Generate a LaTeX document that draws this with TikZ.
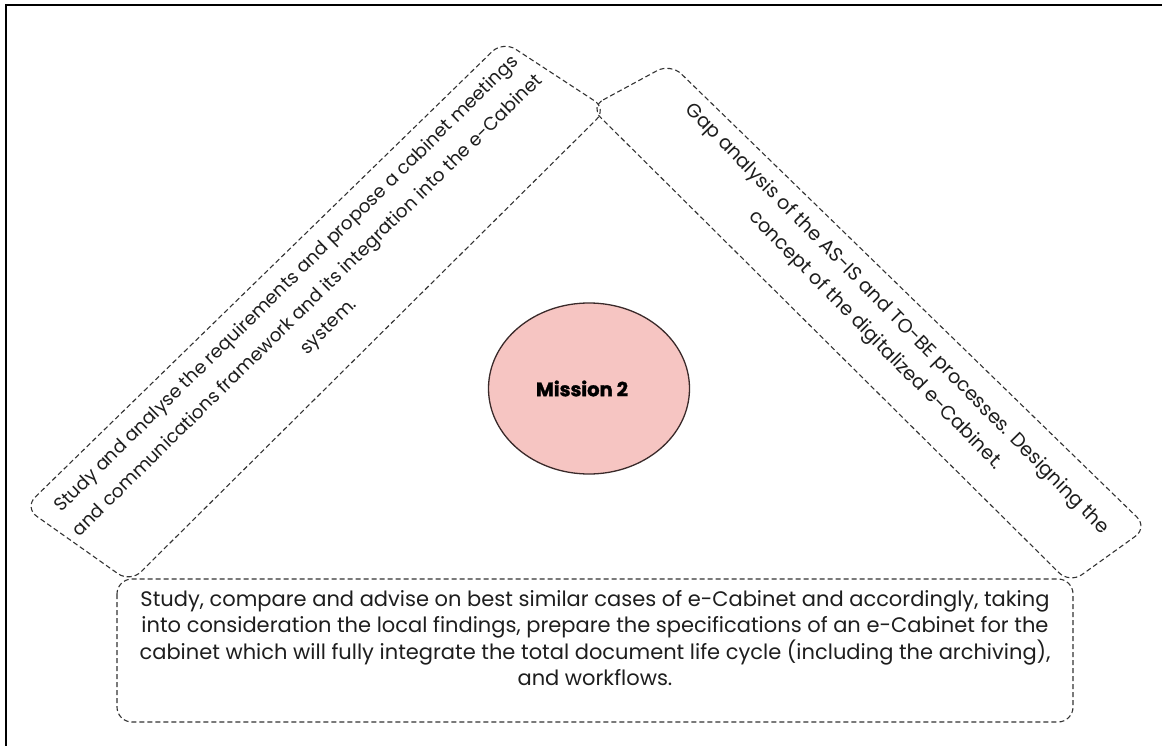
\documentclass[tikz,border=0pt]{standalone}
\usepackage{fontspec}
\setmainfont{Poppins}
\usetikzlibrary{shapes.geometric}
\definecolor{pinkfill}{HTML}{F6C5C2}
\definecolor{circline}{HTML}{3A2A2A}
\definecolor{dashcol}{HTML}{333333}
\definecolor{txtcol}{HTML}{1E1E1E}
\tikzset{
  dbox/.style={draw=dashcol, line width=1.1pt, dash pattern=on 5pt off 3pt, rounded corners=15pt},
  sidetext/.style={text=txtcol, align=center, inner sep=0pt},
  bottext/.style={text=txtcol, font=\fontsize{21}{26.3}\selectfont, align=center, inner sep=0pt},
  mission/.style={shape=ellipse, draw=circline, line width=1.3pt, fill=pinkfill, minimum width=201pt, minimum height=171pt, inner sep=0pt},
  missiontext/.style={text=black, inner sep=0pt, font=\fontsize{19.5}{22}\selectfont\bfseries\addfontfeature{FakeBold=1.5}}
}
\begin{document}
\begin{tikzpicture}[x=1pt,y=-1pt]
\useasboundingbox (0,0) rectangle (1162,746);
\fill[white] (0,0) rectangle (1162,746);
% frame
\draw[line width=2pt, black] (6,746) -- (6,5) -- (1162,5);
% left box
\coordinate (LA) at (24.4,507.6);
\coordinate (LB) at (503,41);
\coordinate (LC) at (607,109);
\coordinate (LD) at (130.3,582.4);
\draw[dbox] (LA) -- (LB) -- (LC) -- (LD) -- cycle;
% right box
\coordinate (RA) at (590,107);
\coordinate (RB) at (670.5,63.4);
\coordinate (RC) at (1147.6,527.5);
\coordinate (RD) at (1069.7,583.4);
\draw[dbox] (RA) -- (RB) -- (RC) -- (RD) -- cycle;
% bottom box
\draw[dbox] (117,579) rectangle (1073,722);
% texts
\node[sidetext, font=\fontsize{18.4}{30}\selectfont, rotate=44.5] (lt) at (308,306) {Study and analyse the requirements and propose a cabinet meetings\\and communications framework and its integration into the e-Cabinet\\system.};
\node[sidetext, font=\fontsize{19.3}{30}\selectfont, rotate=-45.5] (rt) at (886,330) {Gap analysis of the AS-IS and TO-BE processes. Designing the\\concept of the digitalized e-Cabinet.};
\node[bottext] (bt) at (595,638) {Study, compare and advise on best similar cases of e-Cabinet and accordingly, taking\\into consideration the local findings, prepare the specifications of an e-Cabinet for the\\cabinet which will fully integrate the total document life cycle (including the archiving),\\and workflows.};
\node[mission] (m) at (589,388.5) {};
\node[missiontext] (mt) at (582,388.5) {Mission 2};
\end{tikzpicture}
\end{document}
